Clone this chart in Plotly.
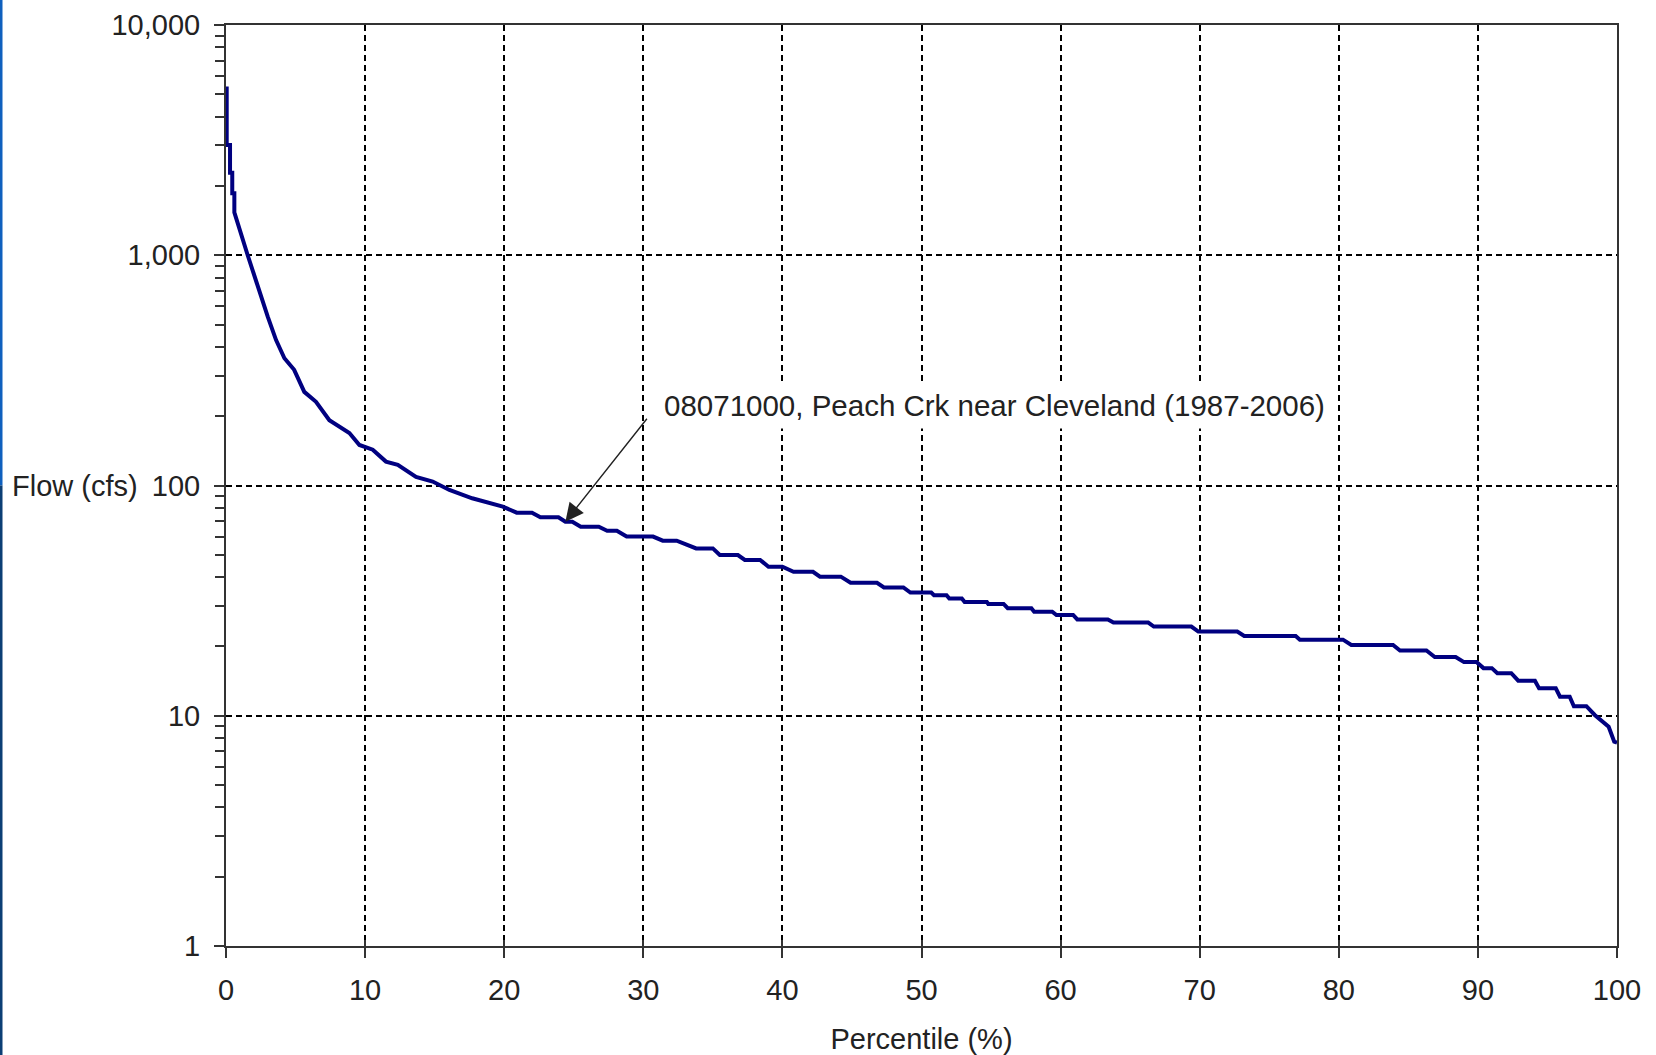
import math
import plotly.graph_objects as go

# Flow duration curve: 08071000, Peach Crk near Cleveland (1987-2006)
percentile = [0.05, 0.05, 0.29, 0.29, 0.45, 0.45, 0.6, 0.6, 1.56, 2.28, 3.0, 3.6, 4.2, 4.9,
              5.63, 6.47, 7.43, 8.87, 9.59, 10.55, 11.5, 12.35, 13.66, 14.86, 16.06, 17.7,
              19.9, 20.9, 22.0, 22.6, 23.9, 24.4, 24.9, 25.5, 26.8, 27.4, 28.1, 28.8, 30.7,
              31.4, 32.4, 33.8, 35.0, 35.5, 36.8, 37.3, 38.4, 39.0, 40.0, 40.8, 42.2, 42.7,
              44.2, 44.9, 46.8, 47.3, 48.7, 49.2, 50.7, 50.9, 51.8, 52.0, 52.9, 53.1, 54.7,
              54.8, 55.9, 56.2, 57.9, 58.1, 59.4, 59.7, 60.9, 61.2, 63.4, 63.8, 66.3, 66.7,
              69.4, 69.9, 72.7, 73.2, 76.9, 77.2, 80.3, 80.9, 83.9, 84.4, 86.3, 86.9, 88.4,
              89.0, 89.9, 90.4, 91.0, 91.4, 92.4, 92.9, 94.1, 94.4, 95.6, 95.9, 96.6, 96.9,
              97.8, 98.4, 98.9, 99.4, 99.8, 100.0]
flow_cfs = [5400, 3010, 3010, 2280, 2280, 1860, 1860, 1535, 1000, 730, 541, 428, 357, 318,
            255, 231, 192, 169, 150, 143, 127, 123, 109, 104, 95.6, 88,
            80.9, 76.2, 76.2, 72.8, 72.8, 69.6, 69.6, 66.2, 66.2, 63.6, 63.6, 60.0, 60.0,
            57.6, 57.6, 53.3, 53.3, 49.9, 49.9, 47.5, 47.5, 44.4, 44.4, 42.2, 42.2, 40.2,
            40.2, 37.8, 37.8, 36.1, 36.1, 34.3, 34.3, 33.4, 33.4, 32.3, 32.3, 31.2, 31.2,
            30.6, 30.6, 29.3, 29.3, 28.3, 28.3, 27.4, 27.4, 26.2, 26.2, 25.4, 25.4, 24.4,
            24.4, 23.2, 23.2, 22.2, 22.2, 21.4, 21.4, 20.3, 20.3, 19.2, 19.2, 18.0, 18.0,
            17.1, 17.1, 16.1, 16.1, 15.3, 15.3, 14.2, 14.2, 13.15, 13.15, 12.1, 12.1, 11.0,
            11.0, 10.08, 9.52, 8.96, 7.71, 7.64]

x_ticks = [0, 10, 20, 30, 40, 50, 60, 70, 80, 90, 100]
y_ticks = [1, 10, 100, 1000, 10000]
y_ticktext = ["1", "10", "100", "1,000", "10,000"]
y_minor = [m * d for d in (1, 10, 100, 1000) for m in range(2, 10)]

series_label = "08071000, Peach Crk near Cleveland (1987-2006)"
arrow_point = (24.4, 69.6)

W, H = 1656, 1055
L, R, T, B = 226, 39, 25, 109
pw, ph = W - L - R, H - T - B

FONT = "Liberation Sans, Arial, sans-serif"
TXT = "#222222"
AX = "#333333"

fig = go.Figure()
fig.add_trace(go.Scatter(x=percentile, y=flow_cfs, mode="lines",
                         line=dict(color="#000080", width=4), showlegend=False,
                         hoverinfo="x+y"))
# empty trace so the overlay axis (inner half of crossing x ticks) is drawn
fig.add_trace(go.Scatter(x=[], y=[], xaxis="x2", showlegend=False))

fig.update_layout(
    width=W, height=H,
    margin=dict(l=L, r=R, t=T, b=B, autoexpand=False),
    paper_bgcolor="white", plot_bgcolor="white",
    font=dict(family=FONT, size=29, color=TXT),
    xaxis=dict(
        range=[0, 100], tickmode="array", tickvals=x_ticks, automargin=False,
        ticks="outside", ticklen=10, tickwidth=2, tickcolor=AX,
        showline=True, linecolor=AX, linewidth=2, mirror=True,
        showgrid=True, gridcolor="black", gridwidth=1.8, griddash="6px,4px",
        zeroline=False, ticklabelstandoff=7,
        tickfont=dict(size=29, color=TXT),
        title=dict(text="Percentile (%)", font=dict(size=29, color=TXT), standoff=25),
    ),
    xaxis2=dict(
        range=[0, 100], overlaying="x", side="bottom", tickmode="array", automargin=False,
        tickvals=x_ticks, ticks="inside", ticklen=6, tickwidth=2, tickcolor=AX,
        showticklabels=False, showgrid=False, showline=False, zeroline=False,
    ),
    yaxis=dict(
        type="log", range=[0, 4], tickmode="array", tickvals=y_ticks, automargin=False,
        ticktext=y_ticktext,
        ticks="outside", ticklen=10, tickwidth=2, tickcolor=AX,
        minor=dict(tickmode="array", tickvals=y_minor, ticks="outside",
                   ticklen=9, tickwidth=2, tickcolor=AX, showgrid=False),
        showline=True, linecolor=AX, linewidth=2, mirror=True,
        showgrid=True, gridcolor="black", gridwidth=1.8, griddash="6px,4px",
        zeroline=False, ticklabelstandoff=8,
        tickfont=dict(size=29, color=TXT),
    ),
    annotations=[
        dict(text="Flow (cfs)", xref="paper", yref="y", x=(140 - L) / pw, y=2,
             xanchor="right", yanchor="middle", showarrow=False,
             font=dict(size=29, color=TXT)),
        dict(text=series_label, xref="x", yref="y", x=31.0, y=2.347,
             xanchor="left", yanchor="middle", showarrow=False,
             bgcolor="white", borderpad=6,
             font=dict(size=29.5, color=TXT)),
        dict(text=" ", xref="x", yref="y", x=arrow_point[0], y=math.log10(arrow_point[1]),
             showarrow=True, ax=87, ay=-110, arrowhead=2, arrowsize=2.6,
             arrowwidth=1.4, arrowcolor="#222222", standoff=0),
    ],
    shapes=[
        dict(type="rect", xref="paper", yref="paper", x0=-L / pw, x1=(-L + 2.5) / pw,
             y0=0.5, y1=1 + T / ph, fillcolor="#0F60BE", line=dict(width=0), layer="above"),
        dict(type="rect", xref="paper", yref="paper", x0=-L / pw, x1=(-L + 2.5) / pw,
             y0=-B / ph, y1=0.5, fillcolor="#0C3F75", line=dict(width=0), layer="above"),
    ],
)

fig.write_html("out.html")
